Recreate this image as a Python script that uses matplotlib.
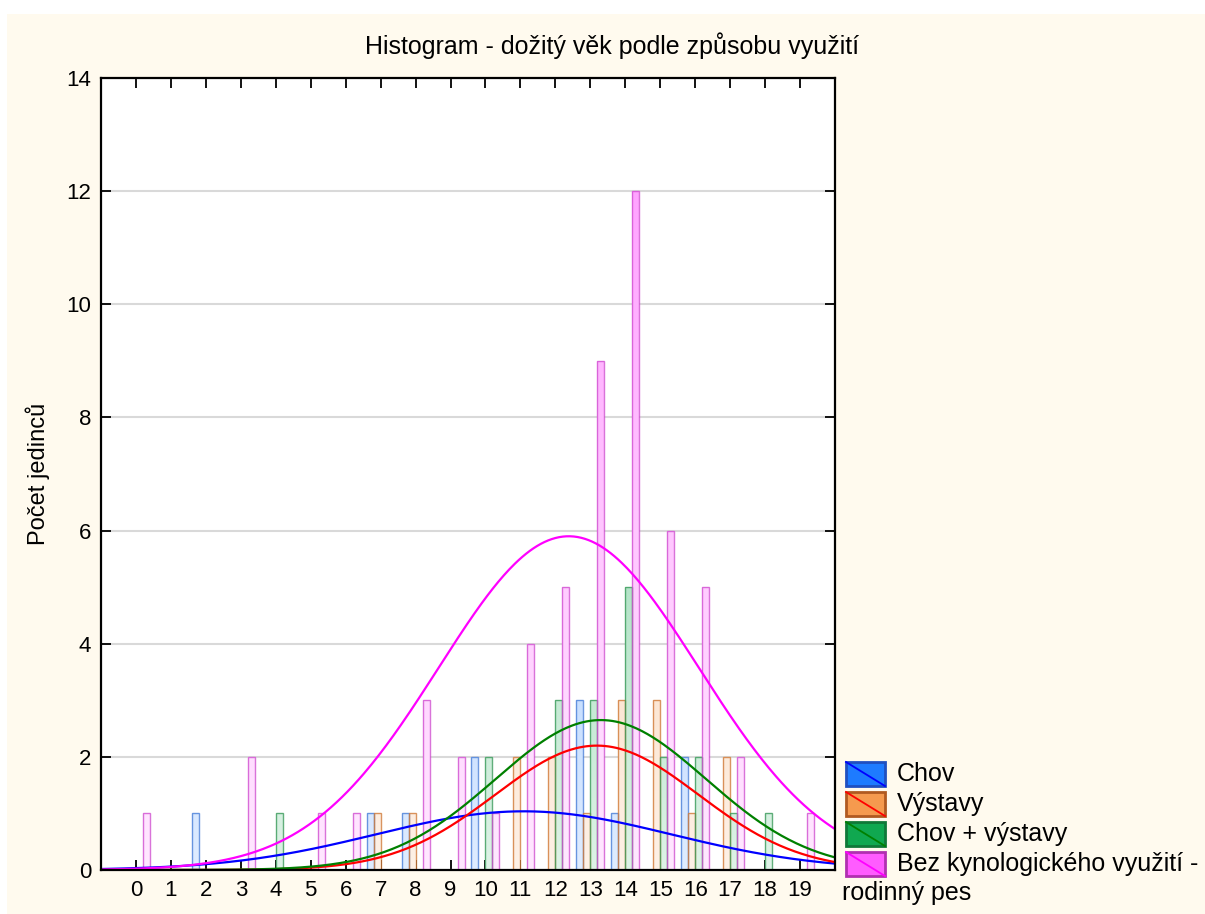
import numpy as np
import matplotlib
matplotlib.use("Agg")
import matplotlib.pyplot as plt
from matplotlib.patches import Rectangle, PathPatch
from matplotlib.path import Path
from matplotlib.lines import Line2D

plt.rcParams['font.family'] = ['Liberation Sans', 'DejaVu Sans']

# ---- data ----
ages = list(range(0, 20))
series_names = ["Chov", "Výstavy", "Chov + výstavy", "Bez kynologického využití -"]
legend_extra = "rodinný pes"
chov =        [0, 0, 1, 0, 0, 0, 0, 1, 1, 0, 2, 0, 0, 3, 1, 0, 2, 0, 0, 0]
vystavy =     [0, 0, 0, 0, 0, 0, 0, 1, 1, 0, 0, 2, 2, 1, 3, 3, 1, 2, 0, 0]
chov_vyst =   [0, 0, 0, 0, 1, 0, 0, 0, 0, 0, 2, 0, 3, 3, 5, 2, 2, 1, 1, 0]
bez =         [1, 0, 0, 2, 0, 1, 1, 0, 3, 2, 1, 4, 5, 9, 12, 6, 5, 2, 0, 1]
title = "Histogram - dožitý věk podle způsobu využití"
ylabel = "Počet jedinců"

counts = [chov, vystavy, chov_vyst, bez]
base_colors = ["#1E7BFF", "#F59A4E", "#10A850", "#FF5CFF"]
edge_colors = ["#4A7FD8", "#D07A38", "#3A9A5A", "#D050D0"]
curve_colors = ["#0000FF", "#FF0000", "#008000", "#FF00FF"]
legend_edges = ["#2050C0", "#B05A20", "#107838", "#B030B0"]
offsets = [-0.4, -0.2, 0.0, 0.2]
bar_w = 0.2

W, H = 1205, 914
fig = plt.figure(figsize=(W / 100, H / 100), dpi=100, facecolor="white")
# cream background panel
fig.add_artist(Rectangle((7 / W, -0.05), 1.1, 1.05 - 14 / H, transform=fig.transFigure,
                         facecolor="#FFFAEE", edgecolor="none", zorder=-10))

ax = fig.add_axes([101 / W, (H - 870) / H, (835 - 101) / W, (870 - 78) / H])
ax.set_facecolor("white")
ax.set_xlim(-1, 20)
ax.set_ylim(0, 14)

# gradient fill helper
def mix(c, f):
    rgb = np.array(matplotlib.colors.to_rgb(c))
    return rgb * (1 - f) + np.ones(3) * f

ygrid = np.linspace(0, 14, 300)
for i, cnt in enumerate(counts):
    x = np.array(ages) + offsets[i]
    verts, codes = [], []
    for xi, c in zip(x, cnt):
        if c <= 0:
            continue
        verts += [(xi, 0), (xi + bar_w, 0), (xi + bar_w, c), (xi, c), (xi, 0)]
        codes += [Path.MOVETO, Path.LINETO, Path.LINETO, Path.LINETO, Path.CLOSEPOLY]
    path = Path(verts, codes)
    clip = PathPatch(path, transform=ax.transData, facecolor="none", edgecolor="none")
    ax.add_patch(clip)
    whiteness = np.clip(0.86 - 0.42 * ygrid / 12.0, 0.4, 0.9)
    img = np.array([mix(base_colors[i], w) for w in whiteness])[:, None, :]
    im = ax.imshow(img, extent=(-1, 20, 0, 14), origin="lower", aspect="auto",
                   interpolation="bilinear", zorder=2)
    im.set_clip_path(clip)
    ax.bar(x, cnt, width=bar_w, align="edge", facecolor="none",
           edgecolor=edge_colors[i], linewidth=1.0, alpha=0.8, zorder=3)

# normal curves fitted to the data
xs = np.linspace(-1, 20, 400)
for i, cnt in enumerate(counts):
    vals = np.repeat(ages, cnt)
    n = len(vals)
    mu = vals.mean()
    sd = vals.std(ddof=1)
    ys = n * 1.0 / (sd * np.sqrt(2 * np.pi)) * np.exp(-0.5 * ((xs - mu) / sd) ** 2)
    ax.plot(xs, ys, color=curve_colors[i], lw=1.6, zorder=4)

# axes styling
ax.set_yticks(range(0, 15, 2))
ax.set_xticks(ages)
ax.set_xticklabels([str(a) for a in ages])
ax.yaxis.grid(True, color="#D9D9D9", lw=1.5, zorder=1)
ax.set_axisbelow(True)
ax.tick_params(direction="in", length=7, width=1.3, labelsize=16, top=True, right=True,
               pad=7, colors="black")
for s in ax.spines.values():
    s.set_linewidth(1.6)
    s.set_color("black")
    s.set_zorder(6)
ax.set_ylabel(ylabel, fontsize=17, labelpad=12)
fig.text(612 / W, 1 - 46 / H, title, ha="center", va="center", fontsize=18)

# manual legend
rows_top = [762, 792, 822, 852]
for i in range(4):
    y0 = rows_top[i]
    x0, x1 = 846, 885
    fig.add_artist(Rectangle((x0 / W, 1 - (y0 + 24) / H), (x1 - x0) / W, 24 / H,
                             transform=fig.transFigure, facecolor=base_colors[i],
                             edgecolor=legend_edges[i], lw=2))
    fig.add_artist(Line2D([x0 / W, x1 / W], [1 - y0 / H, 1 - (y0 + 24) / H],
                          transform=fig.transFigure, color=curve_colors[i], lw=1.3))
    fig.text(897 / W, 1 - (y0 + 12) / H, series_names[i], ha="left", va="center",
             fontsize=18)
fig.text(842 / W, 1 - 893 / H, legend_extra, ha="left", va="center", fontsize=18)

fig.savefig("out.png", dpi=100, facecolor=fig.get_facecolor())
